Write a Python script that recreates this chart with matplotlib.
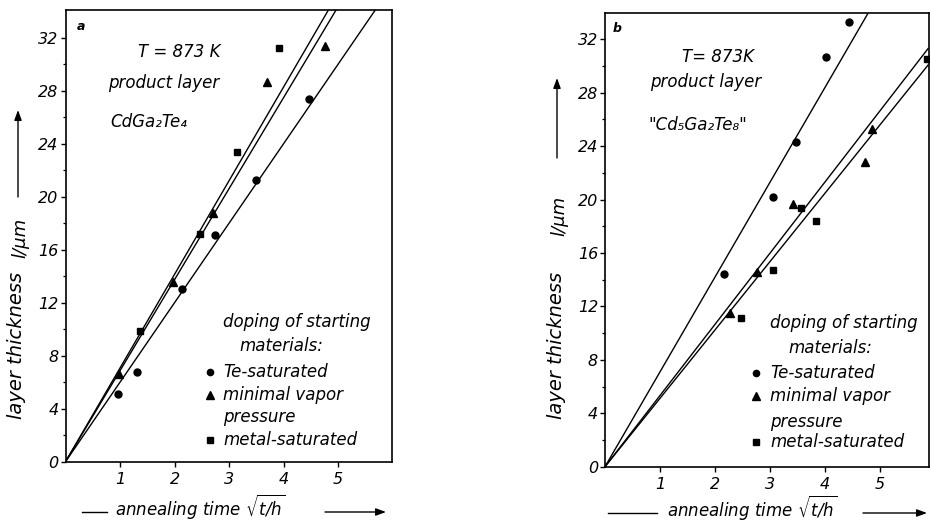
import matplotlib
matplotlib.use('Agg')
import matplotlib.pyplot as plt
from matplotlib.lines import Line2D

plt.rcParams['font.family'] = ['DejaVu Sans']
plt.rcParams['font.style'] = 'oblique'
plt.rcParams['mathtext.fontset'] = 'dejavusans'

W, H = 930, 522

# ---------------- data ----------------
y_ticks = [0, 4, 8, 12, 16, 20, 24, 28, 32]
x_ticks = [1, 2, 3, 4, 5]

# panel a : CdGa2Te4
a_te_x = [0.97, 1.31, 2.13, 2.74, 3.50, 4.46]
a_te_y = [5.1, 6.8, 13.0, 17.1, 21.3, 27.4]
a_mv_x = [0.98, 1.98, 2.70, 3.69, 4.76]
a_mv_y = [6.6, 13.6, 18.8, 28.7, 31.4]
a_ms_x = [1.37, 2.47, 3.15, 3.92]
a_ms_y = [9.9, 17.2, 23.4, 31.2]
a_slopes = [6.0, 6.87, 7.07]

# panel b : "Cd5Ga2Te8"
b_te_x = [2.16, 3.06, 3.47, 4.02, 4.44]
b_te_y = [14.4, 20.2, 24.3, 30.7, 33.3]
b_mv_x = [2.27, 2.77, 3.42, 4.73, 4.86]
b_mv_y = [11.5, 14.6, 19.7, 22.8, 25.3]
b_ms_x = [2.47, 3.06, 3.56, 3.83, 5.86]
b_ms_y = [11.1, 14.7, 19.4, 18.4, 30.5]
b_slopes = [7.10, 5.33, 5.12]

legend_title = ["doping of starting", "materials:"]
legend_items = ["Te-saturated", "minimal vapor", "pressure", "metal-saturated"]

fig = plt.figure(figsize=(W / 100, H / 100), dpi=100)


def fx(px):
    return px / W


def fy(py):
    return 1 - py / H


def make_axes(left, right, top, bottom, xmax, ymax):
    ax = fig.add_axes([fx(left), fy(bottom), fx(right - left), (bottom - top) / H])
    ax.set_xlim(0, xmax)
    ax.set_ylim(0, ymax)
    ax.set_xticks(x_ticks)
    ax.set_yticks(y_ticks)
    ax.set_yticks(range(2, 34, 4), minor=True)
    ax.tick_params(axis='both', which='major', direction='out', length=3.5,
                   width=1.0, labelsize=11.5, color='black')
    ax.tick_params(axis='y', which='major', pad=1.5)
    ax.tick_params(axis='x', which='major', pad=4)
    ax.tick_params(axis='y', which='minor', direction='out', length=2.5, width=0.9)
    for lab in ax.get_xticklabels() + ax.get_yticklabels():
        lab.set_fontstyle('oblique')
    for s in ax.spines.values():
        s.set_linewidth(1.2)
    return ax


def draw_panel(ax, te, mv, ms, slopes, xmax, ymax):
    for k in slopes:
        xe = min(xmax, ymax / k)
        ax.plot([0, xe], [0, k * xe], color='black', lw=1.0, solid_capstyle='butt')
    ax.plot(te[0], te[1], 'o', color='black', ms=5, clip_on=False)
    ax.plot(mv[0], mv[1], '^', color='black', ms=5.5, clip_on=False)
    ax.plot(ms[0], ms[1], 's', color='black', ms=5, clip_on=False)


axa = make_axes(65.5, 392, 10, 461.7, 5.99, 34.1)
draw_panel(axa, (a_te_x, a_te_y), (a_mv_x, a_mv_y), (a_ms_x, a_ms_y), a_slopes, 5.99, 34.1)
axb = make_axes(605, 928.5, 13.3, 466.7, 5.88, 33.94)
draw_panel(axb, (b_te_x, b_te_y), (b_mv_x, b_mv_y), (b_ms_x, b_ms_y), b_slopes, 5.88, 33.94)

fs = 12


def t(px, py, s, **kw):
    kw.setdefault('fontsize', fs)
    kw.setdefault('ha', 'left')
    kw.setdefault('va', 'center')
    fig.text(fx(px), fy(py), s, **kw)


# panel labels
t(81, 26, 'a', fontsize=9, fontweight='bold', ha='center')
t(617, 28, 'b', fontsize=9, fontweight='bold', ha='center')

# annotations panel a
t(138, 52, 'T = 873 K')
t(108, 83, 'product layer')
t(110, 122, 'CdGa₂Te₄')
# annotations panel b
t(682, 57, 'T= 873K')
t(650, 82, 'product layer')
t(648, 125, '"Cd₅Ga₂Te₈"')


def legend(x_mark, x_text, ys, x_title, x_title2):
    t(x_title, ys[0], legend_title[0])
    t(x_title2, ys[1], legend_title[1])
    markers = ['o', '^', None, 's']
    for m, lab, yy in zip(markers, legend_items, ys[2:]):
        t(x_text, yy, lab)
        if m is not None:
            fig.lines.append(Line2D([fx(x_mark)], [fy(yy)], marker=m, color='black',
                                    ms=4.5 if m != '^' else 5.5, transform=fig.transFigure))


legend(210, 223, [322, 346, 371.7, 395, 416.7, 440], 223, 239)
legend(756, 770, [323, 348, 372.7, 396, 421.7, 441.7], 770, 788)


def line(x0, y0, x1, y1, arrow=False):
    if arrow:
        fig.add_artist(matplotlib.patches.FancyArrowPatch(
            (fx(x0), fy(y0)), (fx(x1), fy(y1)), transform=fig.transFigure,
            arrowstyle='-|>,head_length=6,head_width=2.2', color='black', lw=1.0,
            shrinkA=0, shrinkB=0))
    else:
        fig.lines.append(Line2D([fx(x0), fx(x1)], [fy(y0), fy(y1)], color='black',
                                lw=1.0, transform=fig.transFigure))


# y labels
for xl, yl, xu, yu, xa, ya0, ya1 in [(16.5, 345, 20, 238, 18, 197, 110),
                                      (556, 345, 559, 216, 557, 158, 78)]:
    t(xl, yl, 'layer thickness', rotation=90, ha='center', fontsize=14)
    t(xu, yu, 'l/μm', rotation=90, ha='center', fontsize=13)
    line(xa, ya0, xa, ya1, arrow=True)

# x labels
t(115, 515, r'annealing time $\sqrt{t/h}$', fontsize=12, va='baseline')
line(82, 512, 107, 512)
line(325, 512, 386, 512, arrow=True)
t(667, 516, r'annealing time $\sqrt{t/h}$', fontsize=12, va='baseline')
line(608, 513, 657, 513)
line(863, 513, 927, 513, arrow=True)

fig.savefig('out.png', dpi=100)
